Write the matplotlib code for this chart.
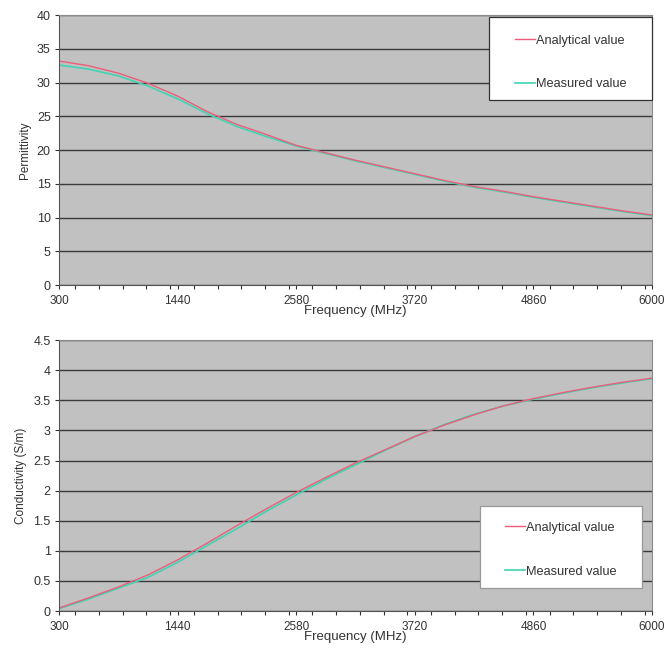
import matplotlib
matplotlib.use("Agg")
import matplotlib.pyplot as plt
from matplotlib.ticker import MultipleLocator
from matplotlib.patches import Rectangle

plt.rcParams['font.family'] = ['Liberation Sans', 'DejaVu Sans']

# frequency samples (MHz)
freq = [300, 585, 870, 1155, 1440, 1725, 2010, 2295, 2580, 2865, 3150,
        3435, 3720, 4005, 4290, 4575, 4860, 5145, 5430, 5715, 6000]

# permittivity
perm_analytical = [33.2, 32.5, 31.4, 29.9, 28.0, 25.7, 23.8, 22.3, 20.7, 19.6, 18.5,
                   17.5, 16.5, 15.5, 14.6, 13.9, 13.1, 12.4, 11.7, 11.0, 10.4]
perm_measured = [32.6, 32.0, 31.0, 29.5, 27.6, 25.4, 23.5, 22.0, 20.6, 19.5, 18.4,
                 17.4, 16.4, 15.4, 14.5, 13.8, 13.0, 12.3, 11.6, 10.9, 10.3]

# conductivity (S/m)
cond_analytical = [0.05, 0.22, 0.40, 0.60, 0.85, 1.13, 1.42, 1.70, 1.97, 2.22, 2.46,
                   2.68, 2.90, 3.09, 3.26, 3.41, 3.53, 3.63, 3.72, 3.80, 3.87]
cond_measured = [0.04, 0.20, 0.38, 0.56, 0.81, 1.09, 1.37, 1.66, 1.93, 2.19, 2.43,
                 2.67, 2.90, 3.10, 3.27, 3.41, 3.52, 3.62, 3.71, 3.79, 3.86]

xticks = [300, 1440, 2580, 3720, 4860, 6000]

red = '#ee5c7a'
cyan = '#3fd4b2'
bg = '#c1c1c1'
txt = '#333333'

fig = plt.figure(figsize=(6.67, 6.48), dpi=100)
ax1 = fig.add_axes([0.0885, 0.560, 0.889, 0.4167])
ax2 = fig.add_axes([0.0885, 0.057, 0.889, 0.418])


def style(ax, ymax, ystep, ylabel, lpad):
    ax.set_facecolor(bg)
    ax.set_xlim(300, 6000)
    ax.set_ylim(0, ymax)
    ax.set_xticks(xticks)
    ax.set_xticklabels([str(t) for t in xticks])
    ax.xaxis.set_minor_locator(MultipleLocator(228))
    ax.yaxis.set_major_locator(MultipleLocator(ystep))
    ax.yaxis.grid(True, color='#3a3a3a', linewidth=1.0)
    ax.set_axisbelow(True)
    ax.tick_params(axis='x', labelsize=8.5, colors=txt, length=3, width=0.8, pad=4)
    ax.tick_params(axis='y', labelsize=9, colors=txt, length=3, width=0.8, pad=3)
    ax.tick_params(axis='x', which='minor', length=3, width=0.8, colors=txt)
    for s in ['left', 'bottom']:
        ax.spines[s].set_color('#555555')
    for s in ['top', 'right']:
        ax.spines[s].set_color('#8a8a8a')
    ax.set_ylabel(ylabel, fontsize=8.5, color=txt, labelpad=lpad)
    ax.set_xlabel('Frequency (MHz)', fontsize=9.5, color=txt, labelpad=-1)


def box_legend(ax, box, anchor, edge):
    x0, y0, x1, y1 = box
    ax.add_patch(Rectangle((x0, y0), x1 - x0, y1 - y0, transform=ax.transAxes,
                           facecolor='white', edgecolor=edge, linewidth=0.9,
                           zorder=4, clip_on=False))
    h, l = ax.get_legend_handles_labels()
    leg = ax.legend(h[::-1], l[::-1], loc='upper left', bbox_to_anchor=anchor,
                    fontsize=9.2, handlelength=1.55, handletextpad=0.1,
                    labelspacing=2.5, borderpad=0, borderaxespad=0, frameon=False)
    for t in leg.get_texts():
        t.set_color(txt)
    leg.set_zorder(5)


# top: permittivity
ax1.plot(freq, perm_measured, color=cyan, linewidth=1.2, label='Measured value')
ax1.plot(freq, perm_analytical, color=red, linewidth=1.0, label='Analytical value')
style(ax1, 40, 5, 'Permittivity', 4)
box_legend(ax1, (0.725, 0.685, 1.0, 0.993), (0.769, 0.928), '#333333')

# bottom: conductivity
ax2.plot(freq, cond_measured, color=cyan, linewidth=1.2, label='Measured value')
ax2.plot(freq, cond_analytical, color=red, linewidth=1.0, label='Analytical value')
style(ax2, 4.5, 0.5, 'Conductivity (S/m)', 5)
ax2.set_yticks([0, 0.5, 1, 1.5, 2, 2.5, 3, 3.5, 4, 4.5])
ax2.set_yticklabels(['0', '0.5', '1', '1.5', '2', '2.5', '3', '3.5', '4', '4.5'])
box_legend(ax2, (0.710, 0.085, 0.983, 0.387), (0.752, 0.329), '#999999')

fig.savefig('out.png', dpi=100)
